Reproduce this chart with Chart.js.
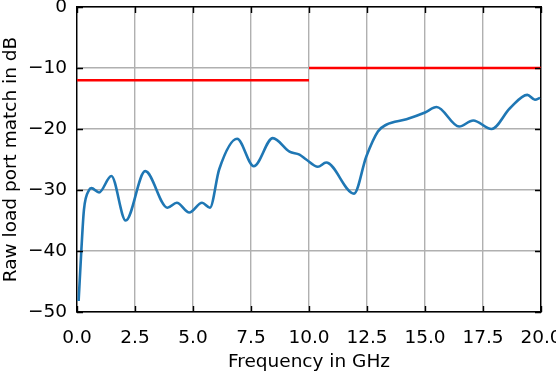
<!DOCTYPE html>
<html>
<head>
<meta charset="utf-8">
<script src="https://cdn.jsdelivr.net/npm/chart.js@4/dist/chart.umd.min.js"></script>
<style>
html,body{margin:0;padding:0;overflow:hidden;background:#fff;}
#wrap{position:absolute;left:0;top:0;width:600px;height:380px;}
</style>
</head>
<body>
<div id="wrap"><canvas id="c" width="600" height="380"></canvas></div>
<script>
// Frequency sweep (GHz) and raw load-port match (dB)
const freqGHz = [0.07,0.19,0.3,0.52,0.62,0.95,1.48,2.1,2.94,3.9,4.3,4.84,5.39,5.73,6.13,6.9,7.62,8.44,9.16,9.59,9.88,10.38,10.74,11.94,12.47,12.97,13.33,14.2,15.0,15.5,16.47,17.08,17.87,18.66,19.41,19.74,19.96];
const matchDb = [-48.2,-39.7,-33.2,-30.0,-29.7,-30.4,-27.7,-35.0,-26.9,-32.9,-32.1,-33.7,-32.1,-32.9,-26.6,-21.6,-26.1,-21.5,-23.7,-24.2,-25.0,-26.2,-25.5,-30.6,-24.5,-20.4,-19.3,-18.4,-17.3,-16.4,-19.6,-18.6,-20.0,-16.6,-14.4,-15.2,-14.9];
// Limit lines
const limitLowFreq = [0, 10];
const limitLowDb = [-12, -12];
const limitHighFreq = [10, 20];
const limitHighDb = [-10, -10];
// Tick values
const xTickValues = [0, 2.5, 5, 7.5, 10, 12.5, 15, 17.5, 20];
const yTickValues = [-50, -40, -30, -20, -10, 0];

const pts = (xs, ys) => xs.map((v, i) => ({x: v, y: ys[i]}));
const FONT = {family: "'DejaVu Sans', sans-serif", size: 18.5};
const TXT = '#000';

const inwardTicks = {
  id: 'inwardTicks',
  afterDatasetsDraw(chart) {
    const {ctx, chartArea: a, scales: {x, y}} = chart;
    const L = 6;
    ctx.save();
    ctx.strokeStyle = '#000';
    ctx.lineWidth = 1.4;
    ctx.beginPath();
    x.ticks.forEach(t => {
      const p = Math.round(x.getPixelForValue(t.value)) + 0.5;
      ctx.moveTo(p, a.bottom); ctx.lineTo(p, a.bottom - L);
      ctx.moveTo(p, a.top); ctx.lineTo(p, a.top + L);
    });
    y.ticks.forEach(t => {
      const p = Math.round(y.getPixelForValue(t.value)) + 0.5;
      ctx.moveTo(a.left, p); ctx.lineTo(a.left + L, p);
      ctx.moveTo(a.right, p); ctx.lineTo(a.right - L, p);
    });
    ctx.stroke();
    ctx.restore();
  }
};

const fixSize = (prop, val) => (s) => {
  s[prop] = val;
  s.paddingLeft = 0; s.paddingRight = 0; s.paddingTop = 0; s.paddingBottom = 0;
};

new Chart(document.getElementById('c'), {
  type: 'line',
  data: {
    datasets: [
      {data: pts(freqGHz, matchDb), borderColor: '#1f77b4', borderWidth: 2.6, pointRadius: 0, cubicInterpolationMode: 'monotone', fill: false},
      {data: pts(limitLowFreq, limitLowDb), borderColor: '#ff0000', borderWidth: 2.4, pointRadius: 0, tension: 0, fill: false},
      {data: pts(limitHighFreq, limitHighDb), borderColor: '#ff0000', borderWidth: 2.4, pointRadius: 0, tension: 0, fill: false}
    ]
  },
  options: {
    responsive: false,
    animation: false,
    devicePixelRatio: 1,
    layout: {padding: {left: 0, right: 59, top: 7, bottom: 7}},
    plugins: {legend: {display: false}, tooltip: {enabled: false}},
    scales: {
      x: {
        type: 'linear', position: 'bottom', min: 0, max: 20,
        afterBuildTicks: s => { s.ticks = xTickValues.map(v => ({value: v})); },
        afterFit: fixSize('height', 61),
        ticks: {font: FONT, color: TXT, padding: 15, maxRotation: 0, autoSkip: false, callback: v => Number(v).toFixed(1)},
        grid: {color: '#b0b0b0', lineWidth: 1.4, drawTicks: false},
        border: {display: true, color: '#000', width: 1.4},
        title: {display: true, text: 'Frequency in GHz', font: FONT, color: TXT, padding: 0}
      },
      y: {
        type: 'linear', position: 'left', min: -50, max: 0,
        afterBuildTicks: s => { s.ticks = yTickValues.map(v => ({value: v})); },
        afterFit: fixSize('width', 77),
        ticks: {font: FONT, color: TXT, padding: 10, autoSkip: false, callback: v => (v < 0 ? '\u2212' + Math.abs(v) : String(v))},
        grid: {color: '#b0b0b0', lineWidth: 1.4, drawTicks: false},
        border: {display: true, color: '#000', width: 1.4},
        title: {display: true, text: 'Raw load port match in dB', font: FONT, color: TXT, padding: 0}
      },
      x2: {
        type: 'linear', position: 'top', min: 0, max: 20,
        afterFit: fixSize('height', 0),
        ticks: {display: false},
        grid: {display: false, drawTicks: false},
        border: {display: true, color: '#000', width: 1.4}
      },
      y2: {
        type: 'linear', position: 'right', min: -50, max: 0,
        afterFit: fixSize('width', 0),
        ticks: {display: false},
        grid: {display: false, drawTicks: false},
        border: {display: true, color: '#000', width: 1.4}
      }
    }
  },
  plugins: [inwardTicks]
});
</script>
</body>
</html>
